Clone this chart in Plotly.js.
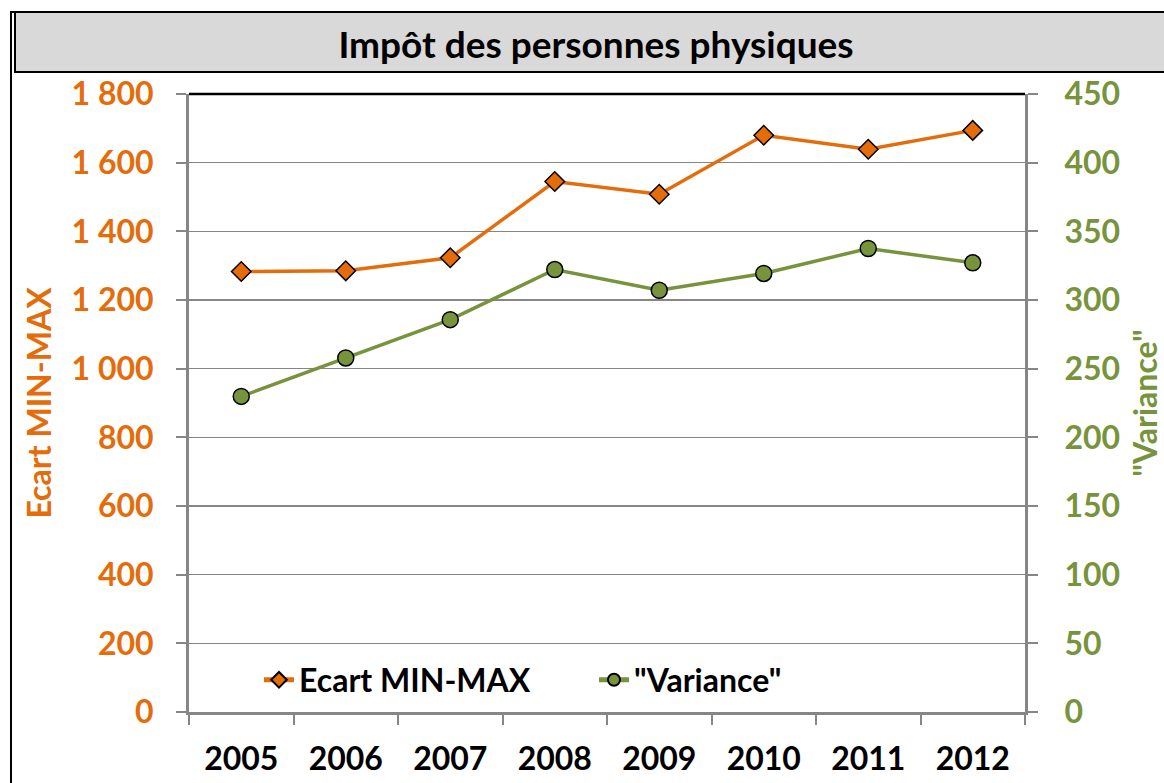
<!DOCTYPE html>
<html>
<head>
<meta charset="utf-8">
<script src="https://cdn.plot.ly/plotly-3.0.1.min.js"></script>
<style>html,body{margin:0;padding:0;background:#fff;}#chart{width:1164px;height:783px;}</style>
</head>
<body>
<div id="chart"></div>
<script>
const years = ["2005","2006","2007","2008","2009","2010","2011","2012"];
const ecartMinMax = [1283, 1285, 1323, 1545, 1508, 1680, 1639, 1694];
const variance = [229.8, 257.8, 285.7, 322.2, 307.1, 319.3, 337.5, 327.1];
const seriesNames = ["Ecart MIN-MAX", "\"Variance\""];
const chartTitle = "Impôt des personnes physiques";

const ORANGE = "#E46C0A";
const GREEN = "#77933C";
const GRAY = "#868686";
const FONT = "Lato, 'Open Sans', sans-serif";

const L = 189, R = 139, T = 94, B = 71, W = 1164, H = 783;
const pw = W - L - R, ph = H - T - B;
const px = v => (v - L) / pw;
const py = v => (H - B - v) / ph;

const traces = [
  {
    x: years, y: ecartMinMax, name: seriesNames[0], type: "scatter", mode: "lines+markers",
    line: {color: ORANGE, width: 3.5},
    marker: {symbol: "diamond", size: 15, color: ORANGE, line: {color: "#000", width: 1.5}},
    yaxis: "y"
  },
  {
    x: years, y: variance, name: seriesNames[1], type: "scatter", mode: "lines+markers",
    line: {color: GREEN, width: 3.5},
    marker: {symbol: "circle", size: 16, color: GREEN, line: {color: "#000", width: 1.5}},
    yaxis: "y2"
  }
];

const layout = {
  width: W, height: H,
  margin: {l: L, r: R, t: T, b: B, pad: 0},
  paper_bgcolor: "#fff", plot_bgcolor: "#fff",
  separators: ", ",
  font: {family: FONT, size: 32, color: "#000", weight: "bold"},
  title: {
    text: chartTitle, x: 596 / W, xanchor: "center", y: 1 - 45 / H, yanchor: "middle",
    xref: "container", yref: "container",
    font: {family: FONT, size: 37, color: "#000", weight: "bold"}
  },
  showlegend: true,
  legend: {
    orientation: "h", x: px(259), y: py(680), xanchor: "left", yanchor: "middle",
    bgcolor: "rgba(0,0,0,0)", font: {family: FONT, size: 32, color: "#000", weight: "bold"},
    entrywidth: 290, entrywidthmode: "pixels", itemsizing: "constant"
  },
  xaxis: {
    type: "category", range: [-0.5, 7.5], tickson: "boundaries",
    ticks: "outside", ticklen: 10, tickwidth: 2, tickcolor: GRAY,
    showline: true, linecolor: GRAY, linewidth: 2.5, showgrid: false, zeroline: false,
    tickfont: {family: FONT, size: 32, color: "#000", weight: "bold"},
    ticklabelstandoff: 17
  },
  yaxis: {
    range: [0, 1800], dtick: 200, tick0: 0, tickformat: ",d",
    ticks: "outside", ticklen: 10, tickwidth: 2, tickcolor: GRAY,
    showline: true, linecolor: GRAY, linewidth: 3, showgrid: true, gridcolor: GRAY, gridwidth: 1.5,
    zeroline: false,
    tickfont: {family: FONT, size: 32, color: ORANGE, weight: "bold"},
    ticklabelstandoff: 16,
    title: {text: seriesNames[0], font: {family: FONT, size: 32, color: ORANGE, weight: "bold"}, standoff: 11}
  },
  yaxis2: {
    range: [0, 450], dtick: 50, tick0: 0, overlaying: "y", side: "right",
    ticks: "outside", ticklen: 10, tickwidth: 2, tickcolor: GRAY,
    showline: true, linecolor: GRAY, linewidth: 3, showgrid: false, zeroline: false,
    tickfont: {family: FONT, size: 32, color: GREEN, weight: "bold"},
    ticklabelstandoff: 20,
    title: {text: seriesNames[1], font: {family: FONT, size: 32, color: GREEN, weight: "bold"}, standoff: 26}
  },
  shapes: [
    {type: "rect", xref: "paper", yref: "paper", x0: px(11), x1: px(1180), y0: py(800), y1: py(12),
     line: {color: "#000", width: 2}, fillcolor: "rgba(0,0,0,0)", layer: "below"},
    {type: "rect", xref: "paper", yref: "paper", x0: px(15), x1: px(1180), y0: py(72), y1: py(12),
     line: {color: "#000", width: 2}, fillcolor: "#D9D9D9", layer: "below"},
    {type: "line", xref: "paper", yref: "paper", x0: 0, x1: 1, y0: 1, y1: 1,
     line: {color: "#000", width: 2.5}, layer: "above"}
  ]
};

Plotly.newPlot("chart", traces, layout, {displayModeBar: false, staticPlot: true});
</script>
</body>
</html>
